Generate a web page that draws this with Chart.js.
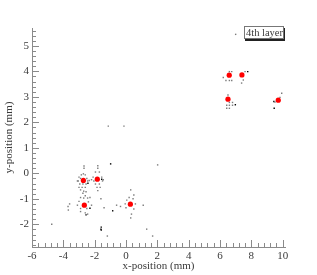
<!DOCTYPE html>
<html>
<head>
<meta charset="utf-8">
<script src="https://cdn.jsdelivr.net/npm/chart.js@4/dist/chart.umd.min.js"></script>
<style>
  html, body { margin: 0; padding: 0; background: #fff; }
  #wrap { width: 317px; height: 275px; }
</style>
</head>
<body>
<div id="wrap"><canvas id="chart"></canvas></div>
<script>
// ------------------------------------------------------------
// DATA
// ------------------------------------------------------------
const layerLabel = "4th layer";

// fitted cluster centres (red markers)
const centreX = [-2.72, -1.83, -2.66, 0.28, 6.59, 7.40, 6.51, 9.72];
const centreY = [-0.28, -0.23, -1.25, -1.21, 3.85, 3.86, 2.91, 2.87];

// single hits, grey
const hitX = [
  -2.68, -2.68, -2.85, -2.72, -2.60, -3.00, -2.90, -2.50, -3.05, -2.45,
  -2.95, -2.75, -2.55, -3.00, -2.80, -2.60, -2.90, -2.70, -3.10, -2.35,
  -1.80, -1.80, -1.95, -1.70, -2.10, -1.55, -1.45, -2.05, -1.95, -1.70,
  -1.85, -1.65, -1.80, -2.20, -1.50,
  -2.55, -2.75, -2.60, -2.90, -2.70, -2.45, -2.30, -3.00, -2.40, -2.20,
  -3.10, -2.90, -2.50, -2.60, -2.45, -2.90, -3.60, -3.70, -1.60, -1.40,
  0.30, 0.50, 0.20, 0.05, 0.45, -0.05, 0.60, 1.10, 0.00, 0.50,
  0.35, 0.30, -0.60, -0.35,
  2.02, -1.13, -0.13, 1.32, -4.74, -3.68, -1.19, 1.70,
  6.75, 6.60, 6.21, 6.38, 6.60, 6.75,
  7.60, 7.49, 7.38,
  6.51, 6.60, 6.80, 6.43, 6.60, 6.80, 6.43, 6.60,
  9.94, 9.51, 9.83, 7.00
];
const hitY = [
  0.29, 0.20, -0.06, -0.02, -0.06, -0.15, -0.20, -0.20, -0.30, -0.30,
  -0.42, -0.42, -0.42, -0.55, -0.55, -0.55, -0.65, -0.70, -0.30, -0.28,
  0.30, 0.20, 0.05, 0.05, -0.15, -0.15, -0.25, -0.30, -0.42, -0.42,
  -0.55, -0.55, -0.68, -0.25, -0.30,
  -0.72, -0.78, -0.88, -0.95, -0.97, -0.97, -0.95, -1.10, -1.12, -1.25,
  -1.25, -1.38, -1.38, -1.55, -1.60, -1.50, -1.20, -1.30, -1.00, -1.35,
  -0.65, -0.85, -0.95, -1.05, -1.00, -1.20, -1.20, -1.25, -1.35, -1.40,
  -1.60, -1.75, -1.25, -1.30,
  0.33, 1.85, 1.85, -2.19, -2.00, -1.44, -2.46, -2.46,
  3.99, 3.99, 3.76, 3.64, 3.64, 3.64,
  3.99, 3.66, 3.54,
  3.07, 2.78, 2.78, 2.67, 2.67, 2.67, 2.55, 2.55,
  3.14, 2.80, 2.98, 5.45
];

// single hits, black
const darkX = [-2.43, -1.55, -2.30, -0.85, -2.55, -1.58, -1.58, -0.98, -1.60, 7.77, 6.98, 9.44, 9.46];
const darkY = [-0.39, -0.23, -1.37, -1.47, -1.63, -2.11, -2.22, 0.37, -2.19, 3.99, 2.69, 2.82, 2.55];

// axis ticks
const xMajor = [-6, -4, -2, 0, 2, 4, 6, 8, 10];
const xMinor = [-5.6, -5.2, -4.8, -4.4, -3.6, -3.2, -2.8, -2.4, -1.6, -1.2, -0.8, -0.4,
                0.4, 0.8, 1.2, 1.6, 2.4, 2.8, 3.2, 3.6, 4.4, 4.8, 5.2, 5.6,
                6.4, 6.8, 7.2, 7.6, 8.4, 8.8, 9.2, 9.6];
const yMajor = [-2, -1, 0, 1, 2, 3, 4, 5];
const yMinor = [-2.8, -2.6, -2.4, -2.2, -1.8, -1.6, -1.4, -1.2, -0.8, -0.6, -0.4, -0.2,
                0.2, 0.4, 0.6, 0.8, 1.2, 1.4, 1.6, 1.8, 2.2, 2.4, 2.6, 2.8,
                3.2, 3.4, 3.6, 3.8, 4.2, 4.4, 4.6, 4.8, 5.2, 5.4, 5.6];

// ------------------------------------------------------------
// HELPERS
// ------------------------------------------------------------
const FONT = "'Liberation Serif', 'Times New Roman', serif";
const AXIS = "#8a8a8a";
const TEXT = "#3a3a3a";

function pairs(xs, ys) {
  return xs.map((x, i) => ({ x, y: ys[i] }));
}

// ROOT style ticks, pointing into the frame
const innerTicks = {
  id: "innerTicks",
  afterDraw(chart) {
    const { ctx, chartArea: a, scales: { x, y } } = chart;
    ctx.save();
    ctx.strokeStyle = AXIS;
    ctx.lineWidth = 1;
    ctx.beginPath();
    const xt = (list, len) => list.forEach(v => {
      const px = Math.round(x.getPixelForValue(v)) + 0.5;
      ctx.moveTo(px, a.bottom);
      ctx.lineTo(px, a.bottom - len);
    });
    const yt = (list, len) => list.forEach(v => {
      const py = Math.round(y.getPixelForValue(v)) + 0.5;
      ctx.moveTo(a.left, py);
      ctx.lineTo(a.left + len, py);
    });
    xt(xMajor, 7); xt(xMinor, 4);
    yt(yMajor, 7); yt(yMinor, 4);
    ctx.stroke();
    ctx.restore();
  }
};

// the "4th layer" pave with its shadow
const layerBox = {
  id: "layerBox",
  afterDraw(chart) {
    const { ctx } = chart;
    ctx.save();
    ctx.fillStyle = "#222";
    ctx.fillRect(245, 39, 40, 2);
    ctx.fillRect(284, 28, 1, 13);
    ctx.strokeStyle = "#777";
    ctx.lineWidth = 1;
    ctx.strokeRect(244.5, 26.5, 39, 12);
    ctx.fillStyle = TEXT;
    ctx.font = "10.5px " + FONT;
    ctx.textBaseline = "middle";
    ctx.textAlign = "center";
    ctx.fillText(layerLabel, 264.5, 33);
    ctx.restore();
  }
};

// ------------------------------------------------------------
// CHART
// ------------------------------------------------------------
new Chart(document.getElementById("chart"), {
  type: "scatter",
  data: {
    datasets: [
      {
        data: pairs(hitX, hitY),
        pointStyle: "rect",
        pointRadius: 1,
        borderWidth: 0,
        backgroundColor: "#7c7c7c"
      },
      {
        data: pairs(darkX, darkY),
        pointStyle: "rect",
        pointRadius: 1,
        borderWidth: 0,
        backgroundColor: "#000"
      },
      {
        data: pairs(centreX, centreY),
        pointStyle: "circle",
        pointRadius: 2.6,
        borderWidth: 0,
        backgroundColor: "#ff0000"
      }
    ]
  },
  options: {
    responsive: true,
    maintainAspectRatio: false,
    animation: false,
    layout: { padding: { top: 28, right: 32, left: 0, bottom: 0 } },
    plugins: {
      legend: { display: false },
      tooltip: { enabled: false }
    },
    scales: {
      x: {
        type: "linear",
        min: -6,
        max: 10.15,
        afterBuildTicks: s => { s.ticks = xMajor.map(v => ({ value: v })); },
        afterFit: s => { s.height = 28; },
        grid: { display: false, drawTicks: false },
        border: { display: true, color: AXIS, width: 1 },
        ticks: {
          color: TEXT,
          padding: 3,
          maxRotation: 0,
          autoSkip: false,
          font: { family: FONT, size: 11 }
        },
        title: {
          display: true,
          text: "x-position (mm)",
          color: TEXT,
          padding: { top: 0, bottom: 2 },
          font: { family: FONT, size: 11 }
        }
      },
      y: {
        type: "linear",
        min: -2.89,
        max: 5.70,
        afterBuildTicks: s => { s.ticks = yMajor.map(v => ({ value: v })); },
        afterFit: s => { s.width = 32; },
        grid: { display: false, drawTicks: false },
        border: { display: true, color: AXIS, width: 1 },
        ticks: {
          color: TEXT,
          padding: 3,
          autoSkip: false,
          font: { family: FONT, size: 11 }
        },
        title: {
          display: true,
          text: "y-position (mm)",
          color: TEXT,
          padding: { top: 3, bottom: 0 },
          font: { family: FONT, size: 11 }
        }
      }
    }
  },
  plugins: [innerTicks, layerBox]
});
</script>
</body>
</html>
